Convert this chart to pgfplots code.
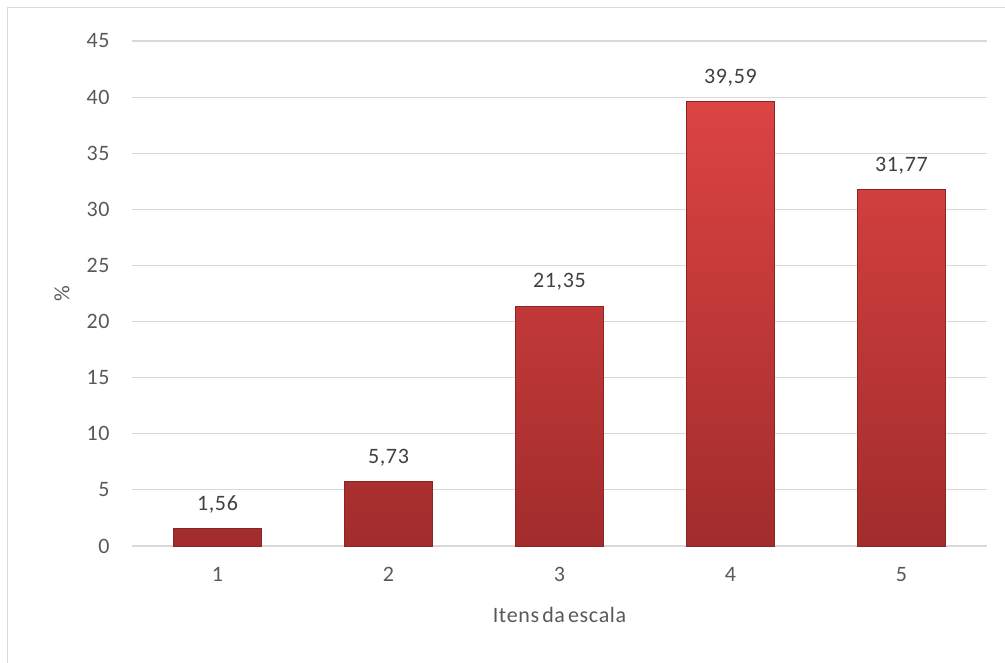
\documentclass[border=0pt]{standalone}
\usepackage{pgfplots}
\pgfplotsset{compat=1.18}
\usepackage{fontspec}
\setmainfont{Carlito}[LetterSpace=3,WordSpace=0.55]
\definecolor{gridc}{RGB}{217,217,217}
\definecolor{tickc}{RGB}{89,89,89}
\definecolor{labc}{RGB}{64,64,64}
\definecolor{bartop}{RGB}{219,68,66}
\definecolor{barbot}{RGB}{162,44,44}
\begin{document}
\begin{tikzpicture}
\begin{axis}[
  scale only axis,
  width=855bp, height=505bp,
  xmin=0.5, xmax=5.5, ymin=0, ymax=45,
  ytick={0,5,...,45},
  xtick={1,2,3,4,5},
  axis line style={draw=none},
  major tick length=0pt,
  ymajorgrids, grid style={gridc, line width=1.2bp},
  tick label style={font=\fontsize{22bp}{26bp}\selectfont, text=tickc},
  /pgf/number format/assume math mode=true,
  yticklabel style={xshift=-19bp},
  xticklabel style={yshift=-18bp},
  xlabel={Itens da escala},
  ylabel={\%},
  label style={font=\fontsize{22bp}{26bp}\selectfont, text=tickc},
  xlabel style={yshift=-18bp},
  ylabel style={yshift=10bp},
  clip=false,
]
\addplot[ybar, bar width=88bp, draw=barbot!85!black, line width=0.6bp,
  top color=bartop, bottom color=barbot,
  nodes near coords,
  every node near coord/.append style={font=\fontsize{22bp}{26bp}\selectfont, text=labc, yshift=12bp},
  /pgf/number format/.cd, use comma, fixed, precision=2, fixed zerofill, assume math mode=true]
  coordinates {(1,1.56) (2,5.73) (3,21.35) (4,39.59) (5,31.77)};
\end{axis}
\path[use as bounding box] (-132bp,-117bp) rectangle (873bp,546bp);
\draw[gridc, line width=1bp] (-124bp,-140bp) rectangle (900bp,538bp);
\end{tikzpicture}
\end{document}
